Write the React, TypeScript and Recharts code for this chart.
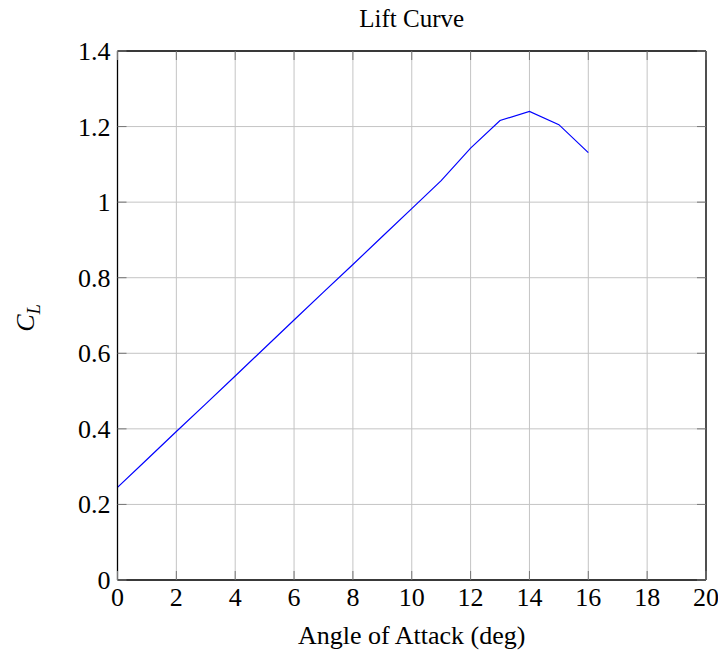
import { LineChart, Line, XAxis, YAxis, CartesianGrid, ReferenceLine } from 'recharts';

const angles = [0, 1, 2, 3, 4, 5, 6, 7, 8, 9, 10, 11, 12, 13, 14, 15, 16];
const liftCoefficients = [
  0.245, 0.319, 0.393, 0.466, 0.54, 0.614, 0.688, 0.762, 0.835, 0.909, 0.983, 1.057, 1.143,
  1.216, 1.24, 1.205, 1.131,
];
const xTicks = [0, 2, 4, 6, 8, 10, 12, 14, 16, 18, 20];
const yTicks = [0, 0.2, 0.4, 0.6, 0.8, 1, 1.2, 1.4];

const data = angles.map((a, i) => ({ angle: a, cl: liftCoefficients[i] }));

const WIDTH = 718;
const HEIGHT = 655;
const MARGIN = { top: 51, right: 12, bottom: 0, left: 0 };
const Y_AXIS_WIDTH = 117.5;
const X_AXIS_HEIGHT = 75;
const PLOT_TOP = MARGIN.top;
const PLOT_BOTTOM = HEIGHT - MARGIN.bottom - X_AXIS_HEIGHT;
const PLOT_LEFT = MARGIN.left + Y_AXIS_WIDTH;
const PLOT_RIGHT = WIDTH - MARGIN.right;
const TICK_LEN = 9;
const FONT = '"Liberation Serif", "DejaVu Serif", serif';
const FONT_SIZE = 26;

const XTick = ({ x, payload }: any) => (
  <g>
    <line x1={x} x2={x} y1={PLOT_BOTTOM} y2={PLOT_BOTTOM - TICK_LEN} stroke="#777" />
    <line x1={x} x2={x} y1={PLOT_TOP} y2={PLOT_TOP + TICK_LEN} stroke="#777" />
    <text x={x} y={PLOT_BOTTOM + 26} textAnchor="middle" fill="#000" fontSize={FONT_SIZE} fontFamily={FONT}>
      {payload.value}
    </text>
  </g>
);

const YTick = ({ y, payload }: any) => (
  <g>
    <line x1={PLOT_LEFT} x2={PLOT_LEFT + TICK_LEN} y1={y} y2={y} stroke="#777" />
    <line x1={PLOT_RIGHT} x2={PLOT_RIGHT - TICK_LEN} y1={y} y2={y} stroke="#777" />
    <text x={PLOT_LEFT - 7} y={y + 9} textAnchor="end" fill="#000" fontSize={FONT_SIZE} fontFamily={FONT}>
      {payload.value}
    </text>
  </g>
);

const XLabel = () => (
  <text
    x={(PLOT_LEFT + PLOT_RIGHT) / 2}
    y={PLOT_BOTTOM + 64}
    textAnchor="middle"
    fill="#000"
    fontSize={FONT_SIZE}
    fontFamily={FONT}
  >
    Angle of Attack (deg)
  </text>
);

const YLabel = () => (
  <text
    transform={`translate(34, 318) rotate(-90)`}
    textAnchor="middle"
    fill="#000"
    fontSize={FONT_SIZE}
    fontFamily={FONT}
    fontStyle="italic"
  >
    C<tspan fontSize={18} dy={6}>L</tspan>
  </text>
);

export default function App() {
  return (
    <div style={{ position: 'absolute', left: 0, top: 0, width: WIDTH, height: HEIGHT, background: '#fff' }}>
      <div
        style={{
          position: 'absolute',
          left: PLOT_LEFT,
          width: PLOT_RIGHT - PLOT_LEFT,
          top: 4,
          textAlign: 'center',
          fontFamily: FONT,
          fontSize: 25,
          lineHeight: '30px',
          color: '#000',
        }}
      >
        Lift Curve
      </div>
      <LineChart width={WIDTH} height={HEIGHT} data={data} margin={MARGIN}>
        <CartesianGrid stroke="#c4c4c4" strokeWidth={1} verticalValues={xTicks} horizontalValues={yTicks} />
        <XAxis
          dataKey="angle"
          type="number"
          domain={[0, 20]}
          ticks={xTicks}
          interval={0}
          height={X_AXIS_HEIGHT}
          tickLine={false}
          tickSize={0}
          tickMargin={0}
          axisLine={{ stroke: '#000', strokeWidth: 1.3 }}
          tick={<XTick />}
          label={<XLabel />}
        />
        <YAxis
          type="number"
          domain={[0, 1.4]}
          ticks={yTicks}
          interval={0}
          width={Y_AXIS_WIDTH}
          tickLine={false}
          tickSize={0}
          tickMargin={0}
          axisLine={{ stroke: '#000', strokeWidth: 1.3 }}
          tick={<YTick />}
          label={<YLabel />}
        />
        <ReferenceLine y={1.4} stroke="#000" strokeWidth={1.3} />
        <ReferenceLine x={20} stroke="#000" strokeWidth={1.3} />
        <Line
          dataKey="cl"
          type="linear"
          stroke="#0000ff"
          strokeWidth={1.2}
          dot={false}
          isAnimationActive={false}
        />
      </LineChart>
    </div>
  );
}
